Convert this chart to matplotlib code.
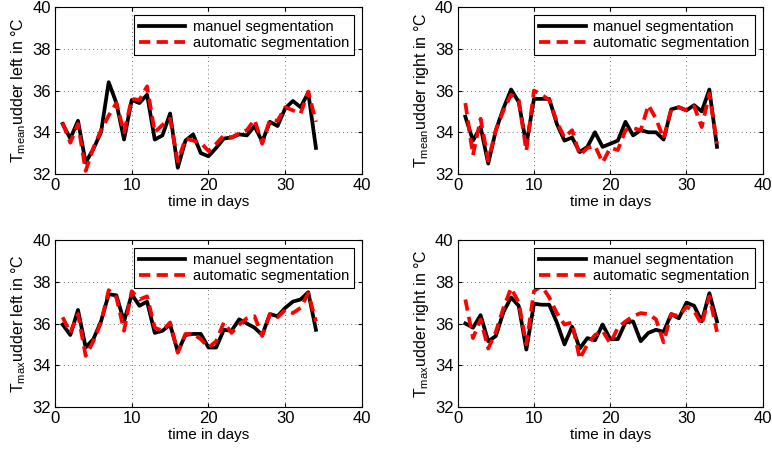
import numpy as np
import matplotlib
matplotlib.use("Agg")
import matplotlib.pyplot as plt

plt.rcParams['font.family'] = ['Liberation Sans', 'DejaVu Sans']
plt.rcParams['mathtext.default'] = 'regular'

days = np.arange(1, 35)

# T_mean udder left
mean_left_man = [34.4, 33.7, 34.55, 32.55, 33.2, 34.0, 36.4, 35.4, 33.65, 35.55,
                 35.4, 35.8, 33.65, 33.85, 34.9, 32.3, 33.6, 33.9, 33.0, 32.85,
                 33.25, 33.7, 33.75, 33.9, 33.85, 34.3, 33.55, 34.5, 34.3, 35.15,
                 35.5, 35.2, 35.9, 33.25]
mean_left_auto = [34.45, 33.5, 34.4, 32.15, 33.25, 34.1, 34.8, 35.4, 34.0, 35.6,
                  35.55, 36.2, 34.0, 34.35, 34.65, 32.6, 33.7, 33.6, 33.5, 33.1,
                  33.45, 33.85, 33.75, 33.95, 34.1, 34.6, 33.45, 34.6, 34.55, 35.2,
                  35.05, 34.9, 35.95, 34.5]

# T_mean udder right
mean_right_man = [34.75, 33.6, 34.25, 32.5, 34.1, 35.15, 36.05, 35.45, 33.4, 35.6,
                  35.6, 35.6, 34.4, 33.6, 33.75, 33.05, 33.3, 34.0, 33.3, 33.45,
                  33.6, 34.5, 33.85, 34.1, 34.0, 34.0, 33.65, 35.1, 35.2, 35.05,
                  35.3, 35.0, 36.05, 33.3]
mean_right_auto = [35.4, 32.9, 34.65, 32.65, 34.1, 35.05, 35.8, 35.55, 33.1, 36.0,
                   35.8, 35.55, 34.5, 33.75, 34.1, 32.9, 33.25, 33.35, 32.55, 33.25,
                   33.15, 34.1, 34.2, 34.1, 35.3, 34.65, 33.7, 35.1, 35.2, 35.05,
                   35.25, 34.25, 35.85, 33.45]

# T_max udder left
max_left_man = [35.95, 35.45, 36.65, 34.85, 35.25, 36.1, 37.4, 37.35, 36.1, 37.4,
                36.85, 37.05, 35.55, 35.65, 35.95, 34.65, 35.45, 35.5, 35.5, 34.85,
                34.85, 35.7, 35.65, 36.2, 36.0, 35.8, 35.45, 36.45, 36.35, 36.75,
                37.05, 37.15, 37.5, 35.7]
max_left_auto = [36.3, 35.55, 36.45, 34.45, 35.15, 36.05, 37.6, 37.25, 35.65, 37.55,
                 37.15, 37.3, 35.8, 35.65, 36.05, 34.6, 35.5, 35.5, 35.25, 34.85,
                 35.15, 36.05, 35.55, 35.95, 36.25, 36.35, 35.4, 36.45, 36.3, 36.65,
                 36.5, 36.75, 37.45, 36.1]

# T_max udder right
max_right_man = [36.0, 35.8, 36.4, 35.15, 35.4, 36.55, 37.25, 36.85, 34.75, 36.95,
                 36.9, 36.9, 36.05, 35.0, 35.85, 34.8, 35.3, 35.2, 35.95, 35.25,
                 35.25, 36.05, 36.1, 35.15, 35.55, 35.7, 35.6, 36.45, 36.25, 37.0,
                 36.85, 36.1, 37.45, 36.1]
max_right_auto = [37.15, 35.3, 36.2, 34.8, 35.6, 36.75, 37.7, 37.0, 35.0, 37.55,
                  37.8, 37.25, 36.5, 35.95, 36.05, 34.3, 35.0, 35.45, 35.65, 35.05,
                  35.8, 36.1, 36.35, 36.5, 36.45, 36.2, 35.1, 36.45, 36.35, 36.8,
                  36.6, 35.95, 37.3, 35.6]

panels = [
    ([0.0712, 0.6133, 0.3977, 0.371], mean_left_man, mean_left_auto, 'mean', 'left'),
    ([0.5929, 0.6133, 0.3951, 0.371], mean_right_man, mean_right_auto, 'mean', 'right'),
    ([0.0712, 0.0956, 0.3977, 0.371], max_left_man, max_left_auto, 'max', 'left'),
    ([0.5929, 0.0956, 0.3951, 0.371], max_right_man, max_right_auto, 'max', 'right'),
]

fig = plt.figure(figsize=(7.72, 4.5), dpi=100)

for rect, man, auto, kind, side in panels:
    ax = fig.add_axes(rect)
    ax.plot(days, man, color='black', lw=2.7, label='manuel segmentation')
    ax.plot(days, auto, color='red', lw=2.7, ls=(0, (3.0, 1.7)), label='automatic segmentation')
    ax.set_xlim(0, 40)
    ax.set_ylim(32, 40)
    ax.set_xticks([0, 10, 20, 30, 40])
    ax.set_yticks([32, 34, 36, 38, 40])
    ax.tick_params(direction='in', labelsize=12, length=3, top=True, right=True, pad=3)
    ax.grid(True, color='#404040', ls=(0, (1, 4)), lw=0.6)
    ax.set_xlabel('time in days', fontsize=11, labelpad=1)
    ax.set_ylabel('T$_{%s}$udder %s in °C' % (kind, side), fontsize=11.5, labelpad=3)
    for s in ax.spines.values():
        s.set_linewidth(0.8)
    leg = ax.legend(loc='upper right', fontsize=10.5, handlelength=3.2, fancybox=False,
                    framealpha=1, edgecolor='black', borderpad=0.35, labelspacing=0.15,
                    handletextpad=0.5, borderaxespad=0.55)
    leg.get_frame().set_linewidth(0.8)

fig.savefig('out.png', dpi=100)
